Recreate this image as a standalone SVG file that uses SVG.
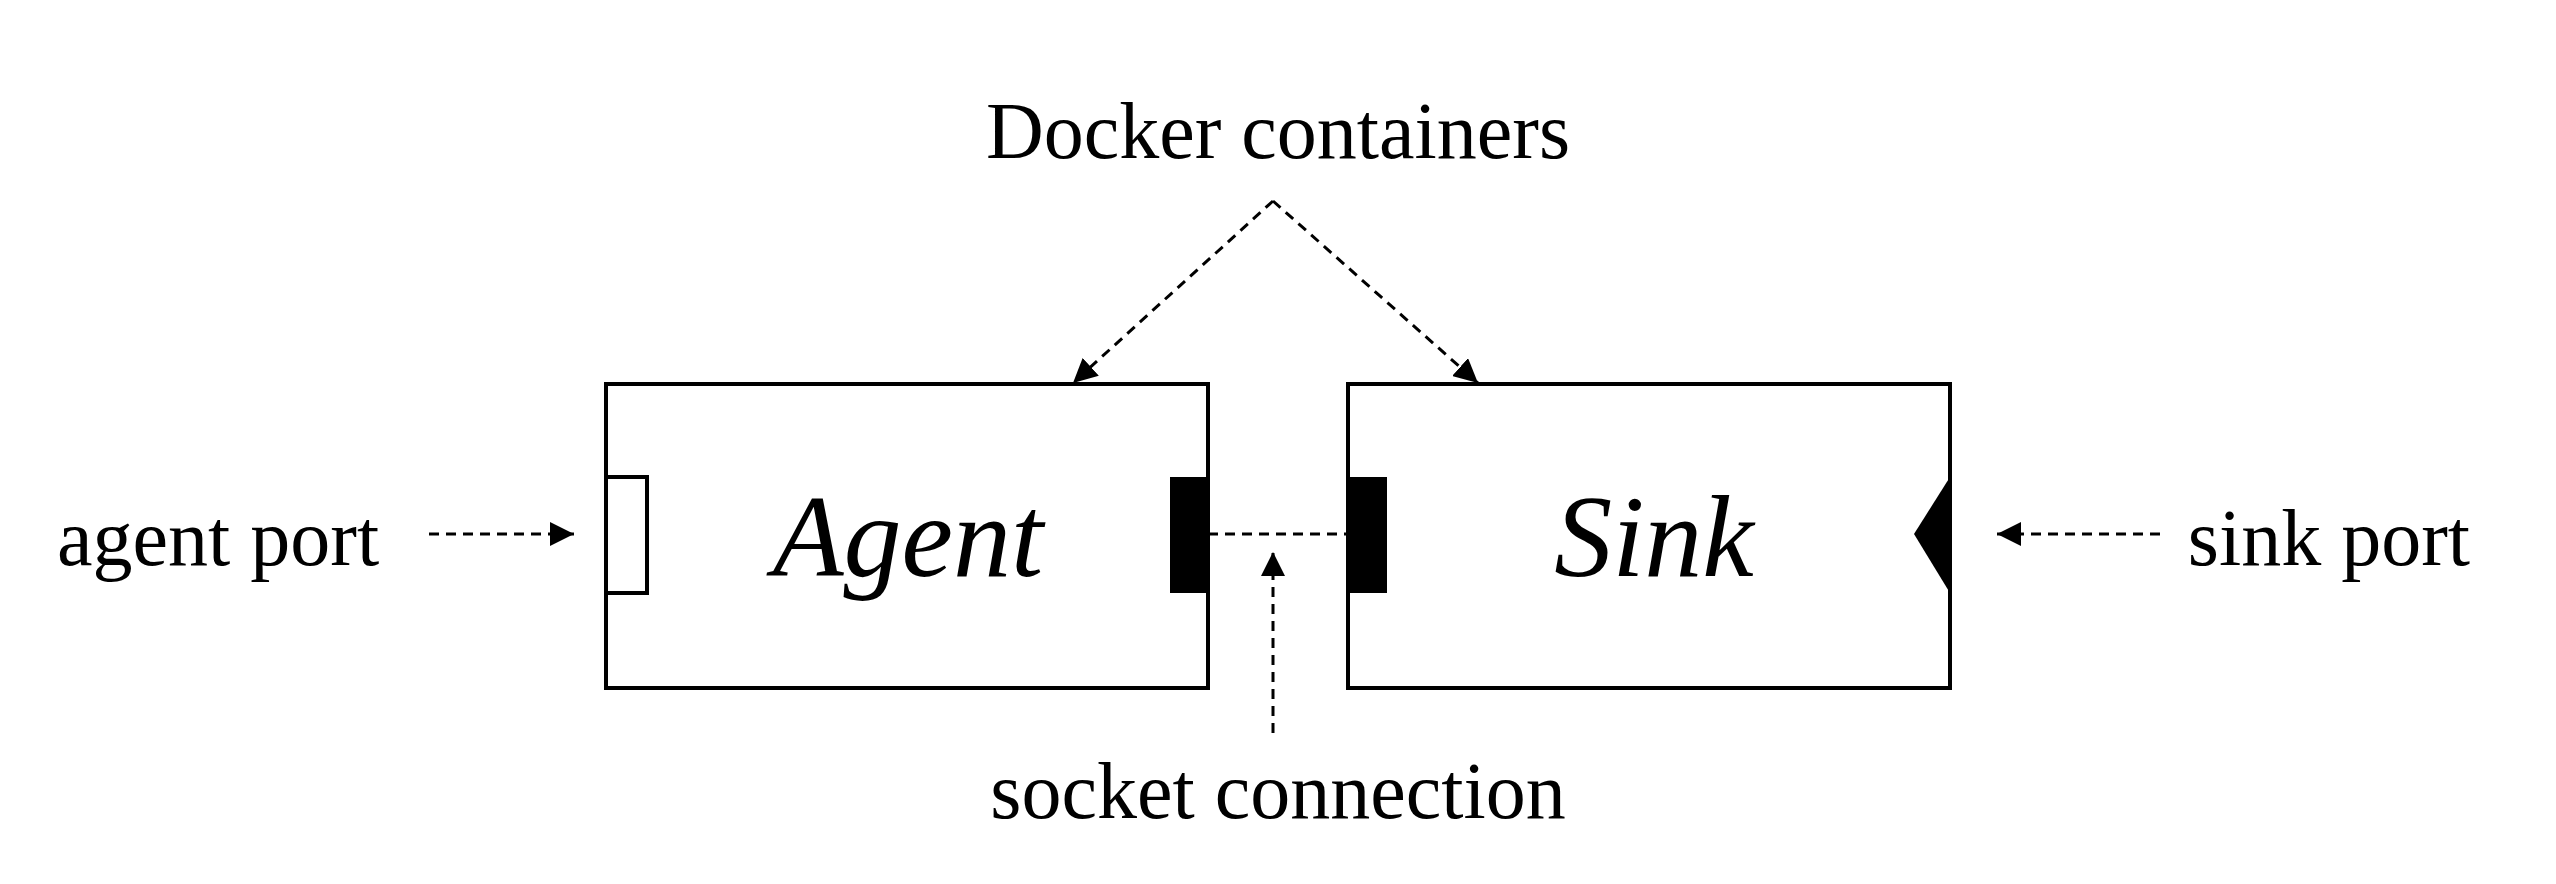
<svg xmlns="http://www.w3.org/2000/svg" width="2556" height="884" viewBox="0 0 2556 884">
<defs>
<style>
.t{font-family:"Liberation Serif","Times New Roman",serif;font-size:80px;fill:#000}
.big{font-family:"Liberation Serif","Times New Roman",serif;font-size:116px;font-style:italic;fill:#000}
.box{fill:#fff;stroke:#000;stroke-width:4}
.d{fill:none;stroke:#000;stroke-width:3;stroke-dasharray:10 7}
</style>
<marker id="ah" viewBox="0 0 10 10" refX="10" refY="5" markerWidth="8" markerHeight="8" markerUnits="userSpaceOnUse" orient="auto" style="overflow:visible"><path d="M0,0 L10,5 L0,10 z" fill="#000" transform="scale(2.4) translate(-5.8,-2.9)"/></marker>
<marker id="a" viewBox="0 0 24 24" refX="24" refY="12" markerWidth="24" markerHeight="24" markerUnits="userSpaceOnUse" orient="auto"><path d="M0,0 L24,12 L0,24 z" fill="#000"/></marker>
</defs>
<rect width="2556" height="884" fill="#fff"/>
<g id="agent">
<rect class="box" x="606" y="384" width="602" height="304"/>
<rect x="606" y="477" width="41" height="116" fill="#fff" stroke="#000" stroke-width="4"/>
<rect x="1170" y="477" width="38" height="116" fill="#000"/>
<text class="big" x="908" y="576" text-anchor="middle">Agent</text>
</g>
<g id="sink">
<rect class="box" x="1348" y="384" width="602" height="304"/>
<rect x="1348" y="477" width="39" height="116" fill="#000"/>
<path d="M1950,477 L1914,534 L1950,593 z" fill="#000"/>
<text class="big" x="1654" y="576" text-anchor="middle">Sink</text>
</g>
<g id="labels">
<text class="t" x="1278" y="158" text-anchor="middle">Docker containers</text>
<text class="t" x="57" y="565">agent port</text>
<text class="t" x="2470" y="565" text-anchor="end">sink port</text>
<text class="t" x="1278" y="818" text-anchor="middle">socket connection</text>
</g>
<g id="connectors">
<line class="d" x1="1208" y1="534" x2="1348" y2="534" stroke-dasharray="24 16"/>
<line class="d" x1="1273" y1="733" x2="1273" y2="552" marker-end="url(#a)"/>
<line class="d" x1="1273" y1="201" x2="1073" y2="383" marker-end="url(#a)"/>
<line class="d" x1="1273" y1="201" x2="1478" y2="383" marker-end="url(#a)"/>
<line class="d" x1="429" y1="534" x2="574" y2="534" stroke-dasharray="7 5" marker-end="url(#a)"/>
<line class="d" x1="2160" y1="534" x2="1997" y2="534" stroke-dasharray="7 5" marker-end="url(#a)"/>
</g>
</svg>
